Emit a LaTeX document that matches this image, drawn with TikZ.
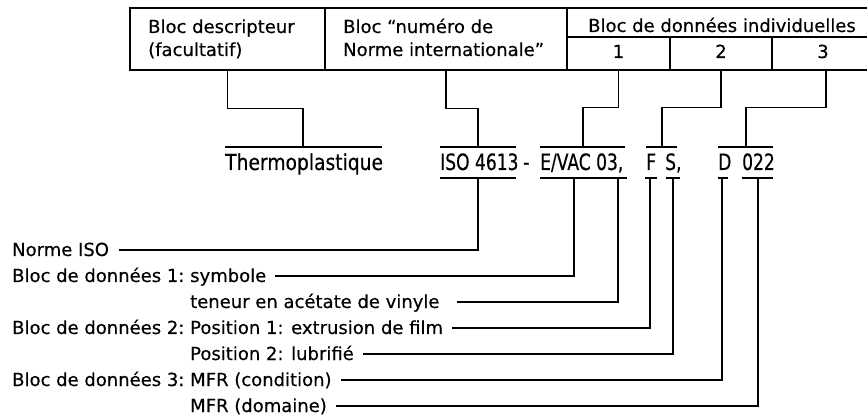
\documentclass[tikz,border=0pt]{standalone}
\usepackage{fontspec}
\setmainfont[FakeBold=0.4]{DejaVu Sans}
\newfontfamily\codefont[FakeStretch=0.76,FakeBold=0.4]{DejaVu Sans}
\newfontfamily\thermofont[FakeStretch=0.85,FakeBold=0.4]{DejaVu Sans}
\begin{document}
\begin{tikzpicture}[x=1pt,y=-1pt,
  ln/.style={line width=1.4pt},
  cell/.style={draw, line width=1.4pt, inner sep=0pt, rectangle},
  lbl/.style={font=\fontsize{18}{21}\selectfont, anchor=base west, inner sep=0pt},
  num/.style={font=\fontsize{18}{21}\selectfont, anchor=base, inner sep=0pt},
  code/.style={font=\codefont\fontsize{22.5}{26}\selectfont, anchor=base west, inner sep=0pt},
  thermo/.style={font=\thermofont\fontsize{22}{26}\selectfont, anchor=base west, inner sep=0pt}]
\useasboundingbox (0,0) rectangle (867,419);
% ---- table ----
\node[cell, minimum width=195pt, minimum height=62pt] (desc) at (227.5,39) {};
\node[cell, minimum width=242pt, minimum height=62pt] (numb) at (446,39) {};
\node[cell, minimum width=313pt, minimum height=29pt] (data) at (723.5,22.5) {};
\node[cell, minimum width=103pt, minimum height=33pt] (d1) at (618.5,53.5) {};
\node[cell, minimum width=102pt, minimum height=33pt] (d2) at (721,53.5) {};
\node[cell, minimum width=108pt, minimum height=33pt] (d3) at (826,53.5) {};
\node[lbl] (tdesc1) at (148,33) {Bloc descripteur};
\node[lbl] (tdesc2) at (148,56) {(facultatif)};
\node[lbl] (tnum1) at (343,33) {Bloc “numéro de};
\node[lbl] (tnum2) at (343,56) {Norme internationale”};
\node[lbl] (tdata) at (588,32) {Bloc de données individuelles};
\node[num] (t1) at (618.5,58) {1};
\node[num] (t2) at (721,58) {2};
\node[num] (t3) at (823,58) {3};
% ---- code line ----
\node[thermo] (thermo) at (225,170) {Thermoplastique};
\node[code] (iso) at (440,170) {ISO 4613};
\node[code] (dash) at (523,170) {-};
\node[code] (evac) at (540,170) {E/VAC 03,};
\node[code] (ff) at (646,170) {F};
\node[code] (ss) at (665,170) {S,};
\node[code] (dd) at (718,170) {D};
\node[code] (dig) at (742,170) {022};
% over- and underlines
\draw[ln] (225,147) -- (382,147);
\draw[ln] (440,147) -- (516,147);
\draw[ln] (540,147) -- (625,147);
\draw[ln] (646,147) -- (677,147);
\draw[ln] (718,147) -- (773,147);
\draw[ln] (440,178) -- (516,178);
\draw[ln] (540,178) -- (627,178);
\draw[ln] (645,178) -- (657,178);
\draw[ln] (666,178) -- (680,178);
\draw[ln] (718,178) -- (728,178);
\draw[ln] (742,178) -- (773,178);
% anchor points on the code line
\coordinate (thermoTop) at (303,147);
\coordinate (isoTop) at (478,147);
\coordinate (evTop) at (583,147);
\coordinate (fsTop) at (662,147);
\coordinate (dTop) at (746,147);
\coordinate (isoBot) at (478,178);
\coordinate (evBotA) at (574,178);
\coordinate (evBotB) at (618,178);
\coordinate (fBot) at (650,178);
\coordinate (sBot) at (673,178);
\coordinate (dBot) at (722,178);
\coordinate (digBot) at (758,178);
% table -> code
\draw[ln] (desc.south) -- ++(0,38) -| (thermoTop);
\draw[ln] (numb.south) -- ++(0,38) -| (isoTop);
\draw[ln] (d1.south) -- ++(0,37) -| (evTop);
\draw[ln] (d2.south) -- ++(0,37) -| (fsTop);
\draw[ln] (d3.south) -- ++(0,37) -| (dTop);
% ---- labels ----
\node[lbl] (lISO) at (12,256) {Norme ISO};
\node[lbl] (lB1) at (12,282) {Bloc de données 1:};
\node[lbl] (lSym) at (190,282) {symbole};
\node[lbl] (lTen) at (190,308) {teneur en acétate de vinyle};
\node[lbl] (lB2) at (12,334) {Bloc de données 2:};
\node[lbl] (lP1) at (190,334) {Position 1: extrusion de film};
\node[lbl] (lP2) at (190,360) {Position 2: lubrifié};
\node[lbl] (lB3) at (12,386) {Bloc de données 3:};
\node[lbl] (lMc) at (190,386) {MFR (condition)};
\node[lbl] (lMd) at (190,412) {MFR (domaine)};
% code -> labels
\draw[ln] (isoBot) |- ([xshift=10pt,yshift=6pt]lISO.base east);
\draw[ln] (evBotA) |- ([xshift=9pt,yshift=6pt]lSym.base east);
\draw[ln] (evBotB) |- ([xshift=17pt,yshift=6pt]lTen.base east);
\draw[ln] (fBot) |- ([xshift=9pt,yshift=6pt]lP1.base east);
\draw[ln] (sBot) |- ([xshift=9pt,yshift=6pt]lP2.base east);
\draw[ln] (dBot) |- ([xshift=9pt,yshift=6pt]lMc.base east);
\draw[ln] (digBot) |- ([xshift=9pt,yshift=6pt]lMd.base east);
\end{tikzpicture}
\end{document}
